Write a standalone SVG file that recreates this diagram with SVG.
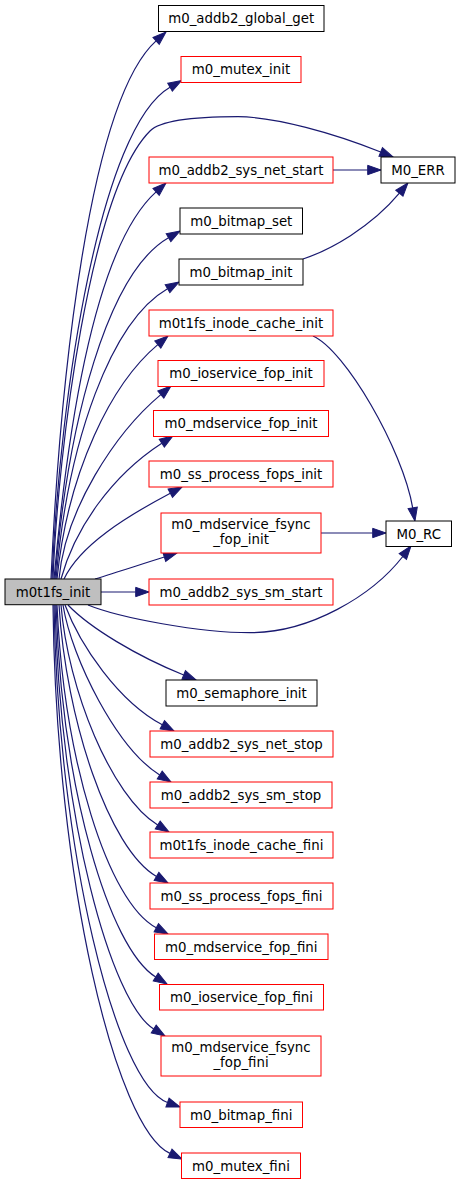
<svg xmlns="http://www.w3.org/2000/svg" width="461" height="1184" viewBox="0 0 461 1184">
<style>
.n rect{fill:#fff;stroke:#000;stroke-width:1}
.n.r rect{stroke:#ff0000}
.n.root rect{fill:#bfbfbf;stroke:#000}
.n text{font-family:"DejaVu Sans",sans-serif;font-size:13.33px;text-anchor:middle;fill:#000}
#edges path{fill:none;stroke:#191970;stroke-width:1.2;marker-end:url(#ah)}
</style>
<defs>
<marker id="ah" markerUnits="userSpaceOnUse" viewBox="0 -5 14 10" refX="0" refY="0" markerWidth="14" markerHeight="10" orient="auto" overflow="visible">
<path d="M0,-4.67 L13.33,0 L0,4.67 Z" fill="#191970" stroke="#191970" stroke-width="1"/>
</marker>
</defs>
<rect width="461" height="1184" fill="#fff"/>
<g id="edges">
<path d="M51,579 C60,380 89.2,101.1 156.1,40.9"/>
<path d="M52,579 C60,390 100.7,127.2 170,87.2"/>
<path d="M53,579 C58,450 90,191 150,131 C162,119 205,116.7 238,116.7 C275,116.7 334.3,133.3 380.7,152"/>
<path d="M54,579 C70,400 100.4,242.1 156.1,191.9"/>
<path d="M55,579 C68,420 107.9,272.7 168.5,237.7"/>
<path d="M56,579 C68,440 111.2,321.2 167.5,288.7"/>
<path d="M57,579 C68,470 111.8,383.2 157.8,344.6"/>
<path d="M59,579 C65,510 114.8,433.2 160.8,394.6"/>
<path d="M61,579 C75,528 111.5,475.9 161.8,443.2"/>
<path d="M64,579 C80,545 126.1,516.7 170.3,493.2"/>
<path d="M95,579 C118,572 141,564.3 164.3,557"/>
<path d="M101,592 L135.7,592"/>
<path d="M88,605 C120,618 200,632.7 250,632.7 C310,632.7 372,595.9 402.8,556.5"/>
<path d="M68,605 C90,628 137.3,656.3 183.7,675"/>
<path d="M65,605 C80,645 118.2,701.3 162.3,724.8"/>
<path d="M63,605 C72,660 117.3,748.5 159.7,775"/>
<path d="M61,605 C68,690 111.1,795.9 157.7,825"/>
<path d="M59,605 C66,720 108.9,848.9 156.5,876.4"/>
<path d="M57,605 C64,760 107.7,902 156.3,927.8"/>
<path d="M56,605 C62,790 109.1,947.9 155.7,977"/>
<path d="M55,605 C60,820 111.3,1002.5 153.7,1029"/>
<path d="M54,605 C58,850 115.8,1083.7 167.5,1102.5"/>
<path d="M53,605 C56,880 115.6,1128 170,1153.4"/>
<path d="M333,170 L367.7,170"/>
<path d="M303,259 C330,250 370.5,227.7 399.4,193.2"/>
<path d="M313,336 C345,350 402.5,448.8 412.7,507.9"/>
<path d="M321,533 L372.7,533"/>
</g>
<g id="n_global_get" class="n"><rect x="158.5" y="5.5" width="165.5" height="26"/><text x="241.25" y="23">m0_addb2_global_get</text></g>
<g id="n_mutex_init" class="n r"><rect x="181" y="56.5" width="120" height="26"/><text x="241" y="74">m0_mutex_init</text></g>
<g id="n_net_start" class="n r"><rect x="149" y="157" width="184" height="26"/><text x="241" y="174.5">m0_addb2_sys_net_start</text></g>
<g id="n_M0_ERR" class="n"><rect x="381" y="157" width="74" height="26"/><text x="418" y="174.5">M0_ERR</text></g>
<g id="n_bitmap_set" class="n"><rect x="180" y="208" width="122.5" height="26"/><text x="241.25" y="225.5">m0_bitmap_set</text></g>
<g id="n_bitmap_init" class="n"><rect x="179" y="259" width="124" height="26"/><text x="241" y="276.5">m0_bitmap_init</text></g>
<g id="n_inode_cache_init" class="n r"><rect x="149" y="310" width="184" height="26"/><text x="241" y="327.5">m0t1fs_inode_cache_init</text></g>
<g id="n_ioservice_fop_init" class="n r"><rect x="158" y="360.5" width="166" height="26"/><text x="241" y="378">m0_ioservice_fop_init</text></g>
<g id="n_mdservice_fop_init" class="n r"><rect x="153.5" y="410.5" width="175" height="26"/><text x="241" y="428">m0_mdservice_fop_init</text></g>
<g id="n_ss_process_fops_init" class="n r"><rect x="149" y="461" width="184" height="26"/><text x="241" y="478.5">m0_ss_process_fops_init</text></g>
<g id="n_fsync_fop_init" class="n r"><rect x="161" y="513" width="160" height="40"/><text x="241" y="528.5">m0_mdservice_fsync</text><text x="241" y="543.5">_fop_init</text></g>
<g id="n_M0_RC" class="n"><rect x="386" y="521" width="65.5" height="25.5"/><text x="418.75" y="538.5">M0_RC</text></g>
<g id="n_m0t1fs_init" class="n root"><rect x="5" y="579" width="96" height="25.7"/><text x="53" y="596.5">m0t1fs_init</text></g>
<g id="n_sm_start" class="n r"><rect x="149" y="579" width="184" height="26"/><text x="241" y="596.5">m0_addb2_sys_sm_start</text></g>
<g id="n_semaphore_init" class="n"><rect x="166" y="680" width="151" height="26"/><text x="241.5" y="697.5">m0_semaphore_init</text></g>
<g id="n_net_stop" class="n r"><rect x="150" y="731" width="183" height="26"/><text x="241.5" y="748.5">m0_addb2_sys_net_stop</text></g>
<g id="n_sm_stop" class="n r"><rect x="150" y="782" width="182" height="26"/><text x="241" y="799.5">m0_addb2_sys_sm_stop</text></g>
<g id="n_inode_cache_fini" class="n r"><rect x="150" y="832" width="183" height="26"/><text x="241.5" y="849.5">m0t1fs_inode_cache_fini</text></g>
<g id="n_ss_process_fops_fini" class="n r"><rect x="150" y="883" width="183" height="26"/><text x="241.5" y="900.5">m0_ss_process_fops_fini</text></g>
<g id="n_mdservice_fop_fini" class="n r"><rect x="154.5" y="934" width="173.5" height="25.5"/><text x="241.25" y="951.5">m0_mdservice_fop_fini</text></g>
<g id="n_ioservice_fop_fini" class="n r"><rect x="159.5" y="984.5" width="164" height="25.5"/><text x="241.5" y="1002">m0_ioservice_fop_fini</text></g>
<g id="n_fsync_fop_fini" class="n r"><rect x="161" y="1036" width="160" height="40"/><text x="241" y="1051.5">m0_mdservice_fsync</text><text x="241" y="1066.5">_fop_fini</text></g>
<g id="n_bitmap_fini" class="n r"><rect x="180" y="1102" width="122.5" height="25.5"/><text x="241.25" y="1119.5">m0_bitmap_fini</text></g>
<g id="n_mutex_fini" class="n r"><rect x="181.5" y="1153" width="119" height="25.5"/><text x="241" y="1170.5">m0_mutex_fini</text></g>
</svg>
